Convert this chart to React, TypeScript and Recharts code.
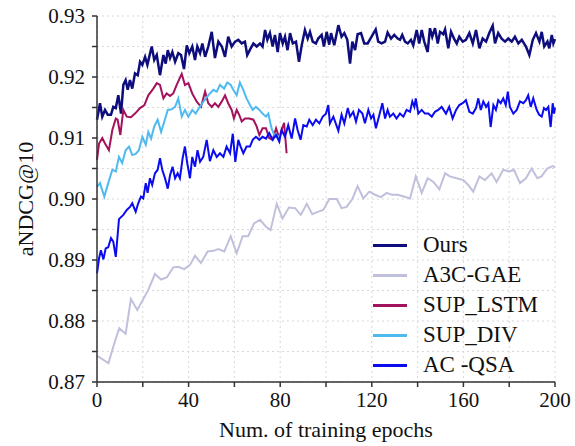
import { LineChart, Line, XAxis, YAxis, CartesianGrid } from 'recharts'

const FONT = '"Liberation Serif", "Times New Roman", serif'

// x ticks every 20 epochs, labels only every 40
const xTicks = [0, 20, 40, 60, 80, 100, 120, 140, 160, 180, 200]
const yTicks = [0.87, 0.875, 0.88, 0.885, 0.89, 0.895, 0.9, 0.905, 0.91, 0.915, 0.92, 0.925, 0.93]

const oursEpochs = [0, 1.3, 2.3, 3.5, 4.7, 6.1, 7.1, 8.2, 9.3, 10.5, 11.5, 12.5, 13.4, 14.4, 15.4, 16.6, 17.8, 18.8, 19.8, 21, 22, 22.8, 23.9, 25, 26.1, 27.5, 29, 30, 30.9, 31.9, 32.9, 34.1, 35.5, 36.7, 38, 39.2, 40.3, 41.6, 42.8, 43.8, 45, 46, 47.2, 48.6, 50.1, 51.5, 53, 54.5, 55.9, 57.3, 58.8, 60.3, 61.7, 63.2, 64.6, 65.6, 67.1, 68.3, 69.7, 71.2, 72.3, 73.4, 74.4, 75.5, 76.7, 77.7, 78.9, 79.9, 81.1, 82.1, 83.2, 84.3, 85.5, 86.9, 88.2, 89.4, 90.8, 92, 93, 94.2, 95.6, 96.6, 98.1, 99.1, 100.3, 101.4, 102.2, 103.6, 105.4, 106.8, 108, 109.3, 110.5, 111.5, 112.7, 113.8, 115.3, 116.7, 118.2, 119.9, 121.7, 122.8, 124.3, 125.8, 126.9, 128.4, 129.8, 131.3, 132.3, 133.3, 134.5, 135.7, 137.1, 138.1, 139.6, 140.7, 141.8, 142.9, 144.4, 145.4, 146.4, 147.6, 148.8, 149.8, 151.2, 152, 153.4, 154.6, 155.9, 157.1, 158.2, 159.7, 161.1, 162.6, 164.1, 165.5, 167, 168.4, 169.9, 171.3, 172.8, 173.8, 175.2, 176.7, 178.2, 179.6, 181.1, 182.5, 184, 185.5, 187.3, 188.8, 190.3, 191.7, 193.2, 194.2, 195.3, 196.7, 197.5, 198.6, 199.3, 200]
const oursValues = [0.913, 0.9157, 0.9135, 0.9146, 0.9138, 0.9138, 0.9151, 0.9149, 0.917, 0.914, 0.9187, 0.9195, 0.9179, 0.9195, 0.9181, 0.9206, 0.9203, 0.9225, 0.922, 0.9233, 0.922, 0.9233, 0.925, 0.9228, 0.9236, 0.9203, 0.9236, 0.9222, 0.9244, 0.9231, 0.9241, 0.9225, 0.9239, 0.9236, 0.9213, 0.9252, 0.9239, 0.925, 0.9228, 0.925, 0.9239, 0.9255, 0.9233, 0.925, 0.9274, 0.9231, 0.9258, 0.925, 0.9233, 0.9266, 0.925, 0.9258, 0.9261, 0.9255, 0.9258, 0.9236, 0.9247, 0.9255, 0.925, 0.9255, 0.925, 0.9277, 0.9261, 0.9272, 0.925, 0.9269, 0.9241, 0.9272, 0.9255, 0.9266, 0.9244, 0.9272, 0.9255, 0.9258, 0.9225, 0.9252, 0.9277, 0.9263, 0.9274, 0.9258, 0.9255, 0.9263, 0.9269, 0.925, 0.9274, 0.9253, 0.9272, 0.9252, 0.9285, 0.9266, 0.9272, 0.9261, 0.9222, 0.9258, 0.9244, 0.927, 0.9272, 0.9255, 0.9255, 0.9266, 0.9278, 0.9258, 0.9255, 0.9258, 0.9273, 0.9263, 0.9269, 0.9263, 0.9261, 0.9269, 0.9258, 0.9255, 0.9261, 0.9252, 0.9277, 0.9255, 0.9277, 0.9258, 0.9241, 0.928, 0.9266, 0.928, 0.9255, 0.9274, 0.927, 0.9278, 0.9247, 0.9274, 0.9263, 0.9255, 0.9266, 0.9258, 0.9261, 0.9272, 0.9255, 0.9277, 0.9247, 0.9263, 0.9258, 0.9272, 0.9284, 0.9255, 0.9272, 0.9263, 0.9258, 0.9263, 0.9258, 0.9266, 0.9255, 0.9261, 0.925, 0.9236, 0.9261, 0.9272, 0.9258, 0.9274, 0.925, 0.9258, 0.9247, 0.9269, 0.9255, 0.9262]

const a3cEpochs = [0, 5, 7.6, 9.7, 12.5, 14.8, 17.6, 22.4, 25.3, 28, 30.6, 33.3, 35.5, 38.1, 40.6, 42.8, 45.4, 48.3, 50.8, 53, 55.6, 58.4, 61, 63.6, 66, 68.6, 71.2, 73.7, 75.8, 78.5, 81, 83.8, 86.5, 89, 91.6, 94, 96.4, 98.8, 101.5, 104.7, 106.8, 109, 111.5, 113.8, 116.3, 118.9, 121.4, 124, 126.5, 128.7, 131.3, 134, 136.7, 139.2, 141.8, 144.4, 146.9, 149.5, 152, 154.1, 157, 160, 162.1, 164.3, 167, 169.4, 172.3, 174.5, 177.4, 180, 182.1, 184.7, 187.3, 189.8, 192.3, 194.1, 196.6, 199, 200]
const a3cValues = [0.8743, 0.8731, 0.8764, 0.8788, 0.8779, 0.8836, 0.8818, 0.8851, 0.8877, 0.8868, 0.8872, 0.8888, 0.8889, 0.8885, 0.8892, 0.8907, 0.8895, 0.8914, 0.8915, 0.8918, 0.8914, 0.8939, 0.8911, 0.8939, 0.8939, 0.896, 0.8966, 0.8955, 0.8949, 0.8992, 0.8968, 0.8986, 0.8985, 0.8974, 0.8992, 0.8975, 0.8979, 0.8982, 0.9, 0.9, 0.8985, 0.8987, 0.9, 0.9021, 0.9001, 0.9012, 0.9007, 0.9003, 0.901, 0.9007, 0.9007, 0.9004, 0.9001, 0.9037, 0.901, 0.9034, 0.9028, 0.9016, 0.9042, 0.9037, 0.9034, 0.9031, 0.9023, 0.9012, 0.9037, 0.9031, 0.9042, 0.9028, 0.9048, 0.9045, 0.9048, 0.9026, 0.9034, 0.905, 0.9034, 0.9037, 0.905, 0.9054, 0.9052]

const lstmEpochs = [0, 0.9, 2.3, 3.5, 5.2, 6.7, 8.2, 9, 10.2, 11.5, 13, 14.8, 16.6, 18.8, 20.7, 22.4, 24.6, 26.1, 27.5, 29, 30.4, 31.9, 33.3, 34.8, 37, 38.4, 39.9, 41.6, 43.5, 45.4, 47.2, 48.6, 50.1, 51.5, 53, 54.5, 55.9, 57.3, 58.8, 59.8, 61, 62.1, 63.2, 64.6, 66.5, 68.3, 69.7, 70.9, 72.3, 73.8, 75.2, 76.7, 78.2, 79.6, 80.6, 81.7, 82.8]
const lstmValues = [0.9064, 0.9091, 0.91, 0.9091, 0.908, 0.9113, 0.9132, 0.913, 0.9105, 0.9146, 0.9135, 0.9134, 0.914, 0.9149, 0.9154, 0.917, 0.9181, 0.919, 0.9187, 0.9165, 0.9173, 0.9169, 0.9173, 0.9187, 0.9205, 0.9187, 0.919, 0.9173, 0.916, 0.9151, 0.9176, 0.9157, 0.9151, 0.9157, 0.9151, 0.916, 0.917, 0.9157, 0.9146, 0.9132, 0.9146, 0.9138, 0.9127, 0.9132, 0.9132, 0.913, 0.9119, 0.9105, 0.9116, 0.9116, 0.91, 0.9097, 0.9116, 0.91, 0.9113, 0.9125, 0.9075]

const divEpochs = [0, 1.3, 3.2, 4.9, 6.7, 8.2, 9.6, 11, 12.5, 14, 15.4, 16.9, 18.3, 19.8, 21.3, 22.4, 23.6, 25, 26.5, 28, 29.4, 30.9, 32.6, 34.1, 35.5, 37, 38.4, 39.9, 41.6, 43.1, 44.5, 46, 47.5, 48.6, 50.8, 52.3, 53.7, 55.5, 56.9, 58.4, 59.5, 61, 62.4, 63.9, 65.3, 66.8, 68, 69.4, 70.9, 72.3, 73.8, 74.8, 76.2, 77.7, 79.2, 80.5]
const divValues = [0.902, 0.9026, 0.9004, 0.9026, 0.9048, 0.9045, 0.9069, 0.9059, 0.908, 0.9086, 0.9072, 0.9074, 0.908, 0.9102, 0.9089, 0.911, 0.9099, 0.9119, 0.913, 0.911, 0.9127, 0.9146, 0.9147, 0.9151, 0.9165, 0.9135, 0.9146, 0.9135, 0.9146, 0.914, 0.9149, 0.9157, 0.9165, 0.917, 0.9179, 0.9176, 0.9187, 0.9181, 0.9191, 0.9187, 0.9179, 0.917, 0.9191, 0.9179, 0.9165, 0.9154, 0.9146, 0.9151, 0.9146, 0.914, 0.9135, 0.914, 0.9116, 0.9102, 0.9102, 0.9108]

const qsaEpochs = [0, 0.9, 1.7, 2.8, 3.8, 4.9, 6.1, 7.1, 8.2, 9.6, 11.5, 13, 14.4, 15.4, 16.9, 18, 19.2, 20.2, 21.3, 22.1, 23.1, 24.1, 25.3, 26.5, 27.5, 28.5, 29.7, 30.9, 31.9, 33, 34.1, 35.2, 36.2, 37.4, 38.4, 39.4, 40.6, 41.6, 42.8, 43.9, 45, 46.4, 47.9, 49.3, 50.8, 52.3, 53.7, 55.2, 56.6, 58.1, 59.3, 60.4, 61.7, 62.7, 63.9, 65.3, 66.8, 68, 69.4, 70.9, 72.3, 73.8, 75.2, 76.7, 78.2, 79.6, 80.6, 82.1, 83.5, 85, 86.5, 87.6, 88.9, 90.1, 91.6, 92.7, 94.2, 95.6, 97.1, 98.6, 100, 101, 101.7, 103.2, 105.4, 106.8, 108, 109.5, 110.5, 111.9, 113.1, 114.4, 115.9, 117, 118.5, 119.7, 120.7, 121.8, 123.1, 124.6, 125.8, 126.9, 127.9, 129.4, 130.8, 132.3, 133.8, 135.2, 136.7, 137.7, 138.6, 139.2, 140.3, 141.8, 143.2, 144.7, 146.2, 147.6, 149, 150.5, 152.4, 153.8, 155.3, 156.8, 158.2, 159.7, 161.1, 162.6, 164.1, 165.5, 166.5, 167.6, 168.7, 169.9, 170.9, 171.9, 173.1, 174.2, 175.2, 176.3, 177.4, 178.5, 179.4, 180.3, 181.8, 183.3, 184.7, 186.2, 187.3, 188.3, 189.4, 190.5, 192, 193.1, 194.2, 195.2, 196.1, 197.1, 198.1, 199, 199.6, 200]
const qsaValues = [0.8878, 0.8903, 0.8916, 0.8901, 0.8919, 0.8921, 0.8936, 0.893, 0.8905, 0.8967, 0.8974, 0.8982, 0.8987, 0.8993, 0.8979, 0.8993, 0.9004, 0.9001, 0.9026, 0.901, 0.9034, 0.9023, 0.9042, 0.9048, 0.9067, 0.9048, 0.9034, 0.9017, 0.9039, 0.9053, 0.9034, 0.9042, 0.9034, 0.9067, 0.9086, 0.9059, 0.9034, 0.9069, 0.9053, 0.908, 0.9061, 0.9069, 0.9097, 0.9062, 0.908, 0.9069, 0.9075, 0.9069, 0.9086, 0.9075, 0.9107, 0.9061, 0.9097, 0.9086, 0.9075, 0.9086, 0.9086, 0.9097, 0.9102, 0.9097, 0.9102, 0.9099, 0.9108, 0.9097, 0.9105, 0.9094, 0.9113, 0.9102, 0.9121, 0.9099, 0.9132, 0.9113, 0.9097, 0.9121, 0.9119, 0.913, 0.9121, 0.913, 0.9124, 0.9135, 0.914, 0.9154, 0.9124, 0.9135, 0.9112, 0.9138, 0.9124, 0.9149, 0.9135, 0.9143, 0.9127, 0.9146, 0.914, 0.9124, 0.9146, 0.9132, 0.9138, 0.9116, 0.9135, 0.9157, 0.9132, 0.9146, 0.9135, 0.914, 0.9132, 0.914, 0.9135, 0.9146, 0.9143, 0.916, 0.9151, 0.9165, 0.914, 0.9146, 0.914, 0.914, 0.9135, 0.9143, 0.9146, 0.9151, 0.914, 0.9151, 0.9132, 0.9146, 0.9154, 0.9157, 0.9162, 0.9143, 0.914, 0.9149, 0.9165, 0.9146, 0.916, 0.9151, 0.9157, 0.9118, 0.9154, 0.9146, 0.9162, 0.9157, 0.9165, 0.9154, 0.9176, 0.9151, 0.914, 0.9146, 0.916, 0.9157, 0.9162, 0.917, 0.9151, 0.9165, 0.9146, 0.9138, 0.9135, 0.9149, 0.9146, 0.9151, 0.9118, 0.9157, 0.914, 0.915]

const toPoints = (xs: number[], ys: number[]) => xs.map((x, i) => ({ x, y: ys[i] }))

const series = [
  { name: 'Ours', color: '#0d0d7c', width: 2.5, data: toPoints(oursEpochs, oursValues) },
  { name: 'A3C-GAE', color: '#c0c0dc', width: 2, data: toPoints(a3cEpochs, a3cValues) },
  { name: 'SUP_LSTM', color: '#a3125c', width: 2, data: toPoints(lstmEpochs, lstmValues) },
  { name: 'SUP_DIV', color: '#4fbaf0', width: 2, data: toPoints(divEpochs, divValues) },
  { name: 'AC -QSA', color: '#0b0bf0', width: 2, data: toPoints(qsaEpochs, qsaValues) },
]

const AXIS = '#333'

export default function App() {
  return (
    <div style={{ position: 'fixed', left: 0, top: 0, width: 575, height: 446, background: '#fff', fontFamily: FONT }}>
      <LineChart width={575} height={446} margin={{ top: 16, right: 20, bottom: 0, left: 0 }}>
        <CartesianGrid stroke="#d8d8d8" strokeDasharray="2 3" />
        <XAxis
          dataKey="x"
          type="number"
          domain={[0, 200]}
          ticks={xTicks}
          tickFormatter={(v: number) => (v % 40 === 0 ? String(v) : '')}
          tick={{ fontSize: 21, fill: '#111', fontFamily: FONT }}
          tickSize={5}
          tickMargin={5}
          height={64}
          stroke={AXIS}
          strokeWidth={1.5}
          allowDuplicatedCategory={false}
          label={({ viewBox }: any) => (
            <text x={viewBox.x + viewBox.width / 2} y={437} textAnchor="middle" fontSize={22} fontFamily={FONT} fill="#111">
              Num. of training epochs
            </text>
          )}
        />
        <XAxis xAxisId="top" orientation="top" type="number" domain={[0, 200]} tick={false} tickLine={false} height={0} stroke={AXIS} strokeWidth={1.5} />
        <YAxis
          type="number"
          domain={[0.87, 0.93]}
          ticks={yTicks}
          tickFormatter={(v: number) => (Math.round(v * 1000) % 10 === 0 ? v.toFixed(2) : '')}
          tick={{ fontSize: 21, fill: '#111', fontFamily: FONT }}
          tickSize={5}
          tickMargin={7}
          width={97}
          stroke={AXIS}
          strokeWidth={1.5}
          label={({ viewBox }: any) => (
            <text x={33} y={viewBox.y + viewBox.height / 2} transform={`rotate(-90, 33, ${viewBox.y + viewBox.height / 2})`} textAnchor="middle" fontSize={22} fontFamily={FONT} fill="#111">
              aNDCG@10
            </text>
          )}
        />
        <YAxis yAxisId="right" orientation="right" type="number" domain={[0.87, 0.93]} tick={false} tickLine={false} width={0} stroke={AXIS} strokeWidth={1.5} />
        {series.map(s => (
          <Line
            key={s.name}
            data={s.data}
            dataKey="y"
            name={s.name}
            stroke={s.color}
            strokeWidth={s.width}
            dot={false}
            activeDot={false}
            isAnimationActive={false}
          />
        ))}
      </LineChart>
      {/* legend */}
      <div style={{ position: 'absolute', left: 373, top: 230 }}>
        {series.map(s => (
          <div key={s.name} style={{ display: 'flex', alignItems: 'center', height: 30 }}>
            <div style={{ width: 34, height: 3, background: s.color, marginRight: 16 }} />
            <span style={{ fontSize: 23, color: '#111', lineHeight: '30px' }}>{s.name}</span>
          </div>
        ))}
      </div>
    </div>
  )
}
